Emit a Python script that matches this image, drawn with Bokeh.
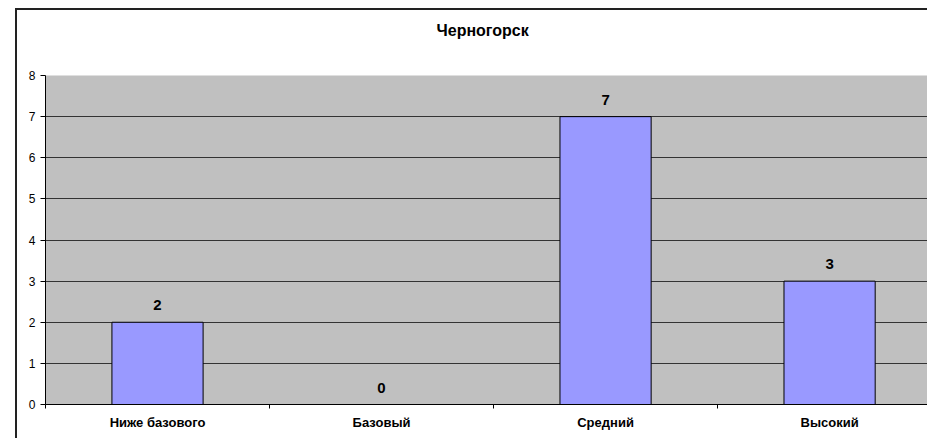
from bokeh.plotting import figure
from bokeh.models import FixedTicker, Range1d, ColumnDataSource, Grid
from bokeh.core.properties import value
from bokeh.embed import file_html
from bokeh.resources import INLINE

title = "Черногорск"
categories = ["Ниже базового", "Базовый", "Средний", "Высокий"]
counts = [2, 0, 7, 3]
y_ticks = [0, 1, 2, 3, 4, 5, 6, 7, 8]

xs = [i + 0.5 for i in range(len(categories))]
src = ColumnDataSource(dict(x=xs, top=counts, lbl=[str(v) for v in counts]))

FONT = "Liberation Sans"

p = figure(width=912, height=430, output_backend="svg", toolbar_location=None,
           x_range=Range1d(0, 3.946), y_range=Range1d(0, 8),
           min_border_left=28, min_border_right=0, min_border_top=65,
           min_border_bottom=36)
p.styles = {"margin-left": "15px", "margin-top": "8px",
            "border-left": "2px solid #222", "border-top": "2px solid #222"}
p.background_fill_color = "#C0C0C0"
p.border_fill_color = "white"
p.outline_line_color = None

p.title.text = title + "\n\n"
p.title.align = "left"
p.title.text_font = FONT
p.title.text_font_size = "16px"
p.title.text_font_style = "bold"
p.title.text_color = "black"
p.title.standoff = 6
p.title.offset = 391

p.vbar(x="x", top="top", width=0.407, source=src, fill_color="#9999FF",
       line_color="black", line_width=1)
p.text(x="x", y="top", text="lbl", source=src, text_align="center",
       text_baseline="bottom", y_offset=-12, text_font=value(FONT),
       text_font_size="15px", text_font_style="bold", text_color="black")

# y axis
p.yaxis.ticker = FixedTicker(ticks=y_ticks)
p.yaxis.major_tick_out = 5
p.yaxis.major_tick_in = 0
p.yaxis.minor_tick_line_color = None
p.yaxis.axis_line_color = "black"
p.yaxis.major_tick_line_color = "black"
p.yaxis.major_label_text_font = FONT
p.yaxis.major_label_text_font_size = "12px"
p.yaxis.major_label_text_color = "black"
p.yaxis.major_label_standoff = 5
p.ygrid.ticker = FixedTicker(ticks=y_ticks[1:-1])
p.ygrid.grid_line_color = "#333333"
p.ygrid.grid_line_width = 1
p.add_layout(Grid(dimension=1, ticker=FixedTicker(ticks=y_ticks[-1:]),
                  grid_line_color="#808080", grid_line_width=1))

# x axis
p.xaxis.ticker = FixedTicker(ticks=xs, minor_ticks=list(range(len(categories))))
p.xaxis.major_label_overrides = {x: c for x, c in zip(xs, categories)}
p.xaxis.major_tick_line_color = None
p.xaxis.major_tick_out = 0
p.xaxis.major_tick_in = 0
p.xaxis.minor_tick_out = 4
p.xaxis.minor_tick_in = 0
p.xaxis.minor_tick_line_color = "black"
p.xaxis.axis_line_color = "black"
p.xaxis.major_label_text_font = FONT
p.xaxis.major_label_text_font_size = "13px"
p.xaxis.major_label_text_font_style = "bold"
p.xaxis.major_label_text_color = "black"
p.xaxis.major_label_standoff = 6
p.xgrid.grid_line_color = None

open("out.html", "w").write(file_html(p, INLINE))
